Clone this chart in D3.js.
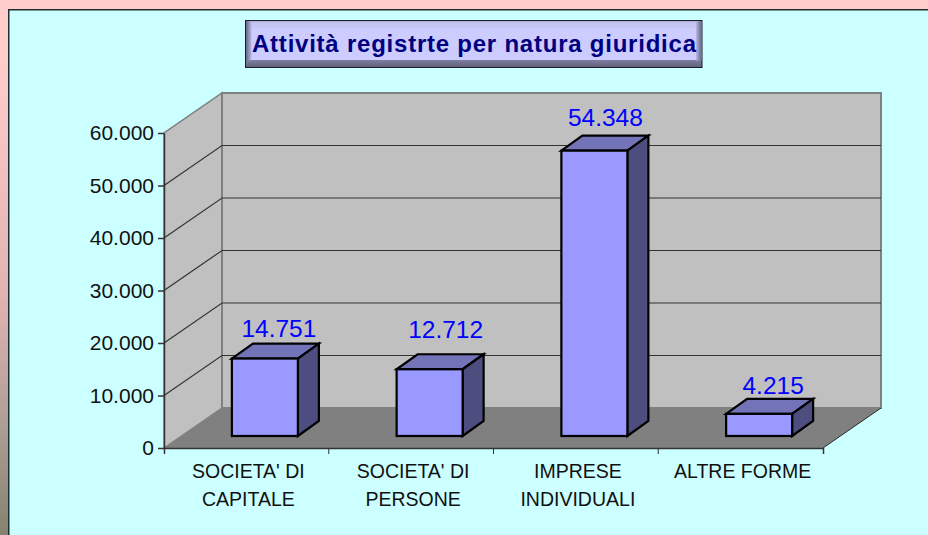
<!DOCTYPE html>
<html>
<head>
<meta charset="utf-8">
<script src="https://cdn.jsdelivr.net/npm/d3@7"></script>
<style>
html, body { margin: 0; padding: 0; background: #CCFFFF; overflow: hidden; }
text { font-family: "Liberation Sans", Arial, sans-serif; }
</style>
</head>
<body>
<div id="chart"></div>
<script>
var categories = ["SOCIETA' DI|CAPITALE", "SOCIETA' DI|PERSONE", "IMPRESE|INDIVIDUALI", "ALTRE FORME"];
var values = [14751, 12712, 54348, 4215];
var valueLabels = ["14.751", "12.712", "54.348", "4.215"];
var yTicks = [0, 10000, 20000, 30000, 40000, 50000, 60000];

var width = 928, height = 535;
var plot = {left: 164, right: 823, top: 133, bottom: 448};
var depth = {x: 58, y: -40};       // floor/wall depth
var barDepth = {x: 21, y: -15};    // box depth
var barOffset = {x: 18.5, y: -12}; // box position on the floor
var barW = 66;
var labelNudge = [[1, 1], [3, -8], [-2, -2], [1, 3]]; // the original labels don't sit evenly

var svg = d3.select("#chart").append("svg")
    .attr("width", width)
    .attr("height", height)
    .style("display", "block");

var defs = svg.append("defs");

var bgGrad = defs.append("linearGradient").attr("id", "bg")
    .attr("x1", 0).attr("y1", 0).attr("x2", 0).attr("y2", 1);
bgGrad.append("stop").attr("offset", "0%").attr("stop-color", "#FFCCCC");
bgGrad.append("stop").attr("offset", "12%").attr("stop-color", "#FFCCCC");
bgGrad.append("stop").attr("offset", "56%").attr("stop-color", "#E0B2B2");
bgGrad.append("stop").attr("offset", "78%").attr("stop-color", "#B0A098");
bgGrad.append("stop").attr("offset", "100%").attr("stop-color", "#848270");

var titleGrad = defs.append("linearGradient").attr("id", "titleV")
    .attr("x1", 0).attr("y1", 0).attr("x2", 0).attr("y2", 1);
titleGrad.append("stop").attr("offset", "0%").attr("stop-color", "#A8A8D0");
titleGrad.append("stop").attr("offset", "6%").attr("stop-color", "#C6C6F2");
titleGrad.append("stop").attr("offset", "15%").attr("stop-color", "#C6C6F2");
titleGrad.append("stop").attr("offset", "16%").attr("stop-color", "#CCCCFF");
titleGrad.append("stop").attr("offset", "84%").attr("stop-color", "#CCCCFF");
titleGrad.append("stop").attr("offset", "85%").attr("stop-color", "#7C7C9E");
titleGrad.append("stop").attr("offset", "100%").attr("stop-color", "#5F5F78");

var titleL = defs.append("linearGradient").attr("id", "titleL")
    .attr("x1", 0).attr("y1", 0).attr("x2", 1).attr("y2", 0);
titleL.append("stop").attr("offset", "0%").attr("stop-color", "#66668A");
titleL.append("stop").attr("offset", "100%").attr("stop-color", "#B8B8E4");

var titleR = defs.append("linearGradient").attr("id", "titleR")
    .attr("x1", 0).attr("y1", 0).attr("x2", 1).attr("y2", 0);
titleR.append("stop").attr("offset", "0%").attr("stop-color", "#B8B8E4");
titleR.append("stop").attr("offset", "100%").attr("stop-color", "#66668A");

var x = d3.scaleBand().domain(categories).range([plot.left, plot.right]);
var y = d3.scaleLinear().domain([0, 60000]).range([plot.bottom, plot.top]);

// page background and frame
svg.append("rect").attr("width", width).attr("height", height).attr("fill", "url(#bg)");
svg.append("rect")
    .attr("x", 8.75).attr("y", 9.75)
    .attr("width", width + 10).attr("height", height + 10)
    .attr("fill", "#CCFFFF")
    .attr("stroke", "#1E2E2E")
    .attr("stroke-width", 1.5);

// title
svg.append("rect")
    .attr("x", 245.5).attr("y", 20.5)
    .attr("width", 456.5).attr("height", 47)
    .attr("fill", "url(#titleV)")
    .attr("stroke", "#1A1A2A")
    .attr("stroke-width", 1);
svg.append("rect")
    .attr("x", 246).attr("y", 21).attr("width", 5.5).attr("height", 39.5)
    .attr("fill", "url(#titleL)");
svg.append("rect")
    .attr("x", 696).attr("y", 21).attr("width", 5.5).attr("height", 39.5)
    .attr("fill", "url(#titleR)");
svg.append("text")
    .attr("x", 252).attr("y", 51.5)
    .attr("font-size", 24)
    .attr("font-weight", "bold")
    .attr("fill", "#000080")
    .attr("textLength", 444)
    .text("Attività registrte per natura giuridica");

function path(pts) {
    return d3.line()(pts) + "Z";
}

// walls
var x0 = plot.left, x1 = plot.right, yB = y(0), yT = y(60000);
svg.append("path")
    .attr("d", path([[x0, yB], [x0 + depth.x, yB + depth.y], [x0 + depth.x, yT + depth.y], [x0, yT]]))
    .attr("fill", "#C0C0C0").attr("stroke", "#808080").attr("stroke-width", 1.5);
svg.append("path")
    .attr("d", path([[x0 + depth.x, yB + depth.y], [x1 + depth.x, yB + depth.y], [x1 + depth.x, yT + depth.y], [x0 + depth.x, yT + depth.y]]))
    .attr("fill", "#C0C0C0").attr("stroke", "#808080").attr("stroke-width", 2);

// gridlines
var grid = yTicks.slice(1, -1);
svg.append("g").selectAll("path").data(grid).enter().append("path")
    .attr("d", function(d) {
        return d3.line()([[x0, y(d)], [x0 + depth.x, y(d) + depth.y], [x1 + depth.x, y(d) + depth.y]]);
    })
    .attr("fill", "none").attr("stroke", "#333").attr("stroke-width", 1.2);

// floor
svg.append("path")
    .attr("d", path([[x0, yB], [x1, yB], [x1 + depth.x, yB + depth.y], [x0 + depth.x, yB + depth.y]]))
    .attr("fill", "#808080");
svg.append("path")
    .attr("d", d3.line()([[x1, yB], [x1 + depth.x, yB + depth.y]]))
    .attr("stroke", "#2A2A2A").attr("stroke-width", 1).attr("fill", "none");

// axes
var yAxis = d3.axisLeft(y).tickValues(yTicks).tickSize(6).tickSizeOuter(0)
    .tickFormat(function(d) { return d3.format(",")(d).replace(",", "."); });
var yG = svg.append("g").attr("transform", "translate(" + x0 + ",0)").call(yAxis);
yG.selectAll("text").attr("font-size", 21).attr("fill", "#111").attr("x", -10).style("font-family", '"Liberation Sans"');
yG.selectAll("line,path").attr("stroke", "#333").attr("stroke-width", 1.5);

var xAxis = d3.axisBottom(x).tickSize(0).tickSizeOuter(6).tickFormat("");
var xG = svg.append("g").attr("transform", "translate(0," + yB + ")").call(xAxis);
xG.selectAll("path").attr("stroke", "#333").attr("stroke-width", 1.5);

svg.append("g").selectAll("line")
    .data(categories.slice(1))
    .enter().append("line")
    .attr("x1", function(d) { return x(d); })
    .attr("x2", function(d) { return x(d); })
    .attr("y1", yB).attr("y2", yB + 6)
    .attr("stroke", "#333").attr("stroke-width", 1);

// category labels
var labels = svg.append("g").selectAll("text")
    .data(categories)
    .enter().append("text")
    .attr("text-anchor", "middle")
    .attr("font-size", 19.5)
    .attr("fill", "#111");
labels.each(function(d) {
    var t = d3.select(this);
    d.split("|").forEach(function(line, i) {
        t.append("tspan")
            .attr("x", x(d) + x.bandwidth() / 2 + 2)
            .attr("y", 478 + i * 28)
            .text(line);
    });
});

// bars
var barX = function(i) { return x(categories[i]) + barOffset.x + (x.bandwidth() - barOffset.x * 2 - barW) / 2 + barOffset.x; };
var barY = function(v) { return y(v) + barOffset.y; };
var base = yB + barOffset.y;

var bars = svg.append("g").selectAll("g")
    .data(values)
    .enter().append("g")
    .attr("stroke", "#000")
    .attr("stroke-width", 2.2)
    .attr("stroke-linejoin", "miter");

bars.append("path") // top
    .attr("fill", "#7373B8")
    .attr("d", function(d, i) {
        var l = barX(i), r = l + barW, t = barY(d);
        return path([[l, t], [r, t], [r + barDepth.x, t + barDepth.y], [l + barDepth.x, t + barDepth.y]]);
    });
bars.append("path") // side
    .attr("fill", "#4D4D80")
    .attr("d", function(d, i) {
        var r = barX(i) + barW, t = barY(d);
        return path([[r, t], [r + barDepth.x, t + barDepth.y], [r + barDepth.x, base + barDepth.y], [r, base]]);
    });
bars.append("rect") // front
    .attr("fill", "#9999FF")
    .attr("x", function(d, i) { return barX(i); })
    .attr("y", function(d) { return barY(d); })
    .attr("width", barW)
    .attr("height", function(d) { return base - barY(d); });

// value labels
svg.append("g").selectAll("text")
    .data(values)
    .enter().append("text")
    .attr("text-anchor", "middle")
    .attr("font-size", 24.5)
    .attr("fill", "#0000FF")
    .attr("x", function(d, i) { return barX(i) + barW / 2 + 13 + labelNudge[i][0]; })
    .attr("y", function(d, i) { return barY(d) + barDepth.y - 8 + labelNudge[i][1]; })
    .text(function(d, i) { return valueLabels[i]; });
</script>
</body>
</html>
